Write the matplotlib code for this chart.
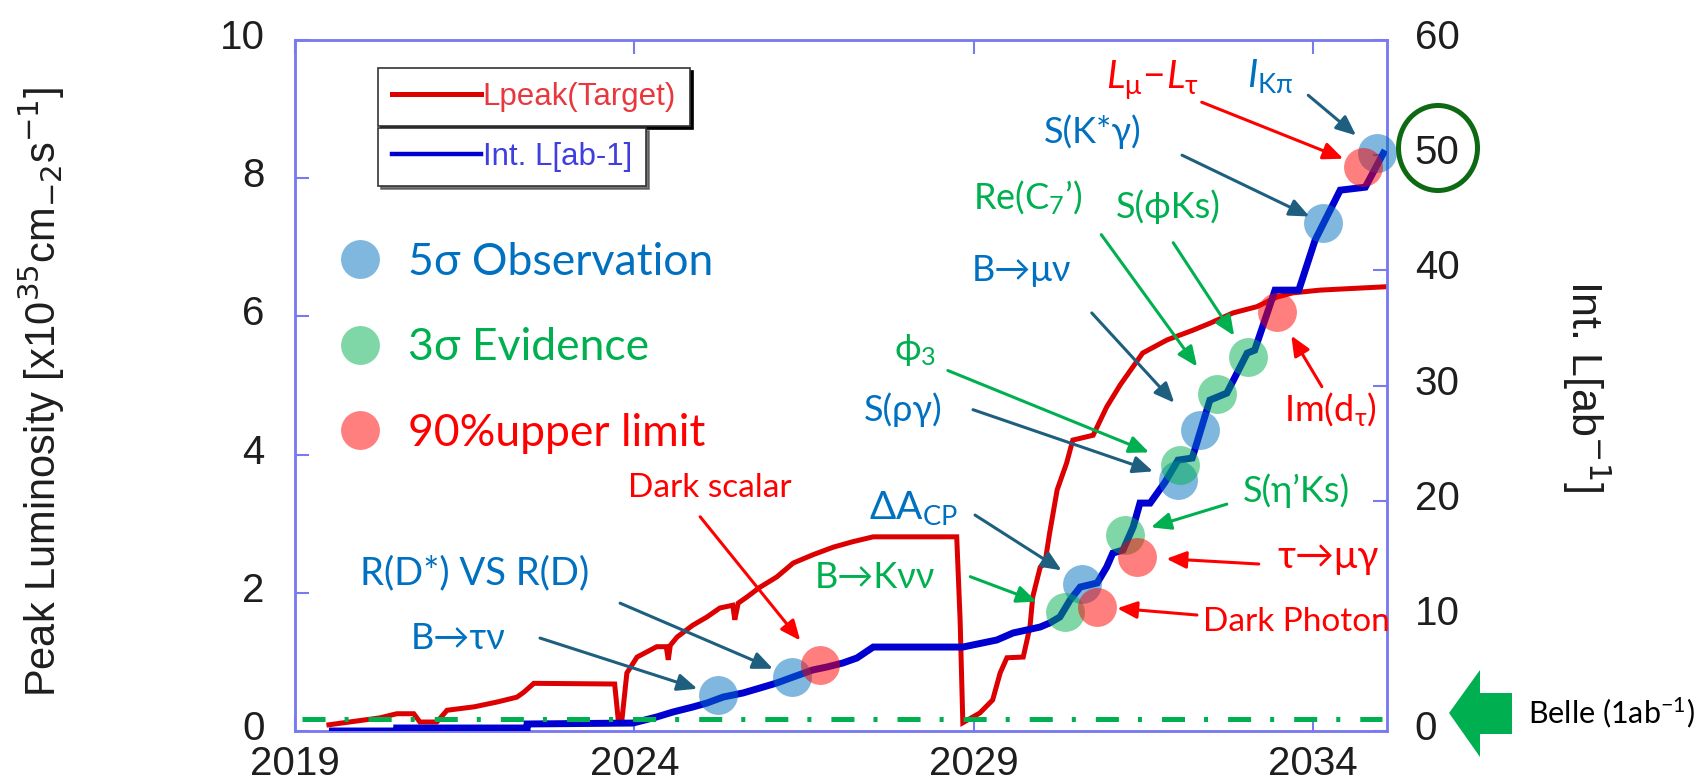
import matplotlib
matplotlib.use("Agg")
import matplotlib.pyplot as plt
from matplotlib.lines import Line2D
from matplotlib.patches import Polygon, Ellipse
from matplotlib.transforms import Affine2D, ScaledTranslation
from matplotlib.font_manager import FontProperties

plt.rcParams['font.family'] = ['Liberation Sans', 'DejaVu Sans']
plt.rcParams['mathtext.fontset'] = 'custom'
plt.rcParams['mathtext.rm'] = 'Lato'
plt.rcParams['mathtext.it'] = 'Lato:italic'
plt.rcParams['mathtext.bf'] = 'Lato:bold'
plt.rcParams['mathtext.fallback'] = 'stixsans'
plt.rcParams['lines.scale_dashes'] = False

# ---------------- data ----------------
# Peak luminosity target [1e35 cm^-2 s^-1]
peak_year = [2019.50, 2020.25, 2020.50, 2020.75, 2020.84, 2021.09, 2021.24, 2021.64,
             2021.98, 2022.27, 2022.37, 2022.52, 2023.71, 2023.76, 2023.82, 2023.89,
             2024.04, 2024.33, 2024.47, 2024.50, 2024.53, 2024.63, 2024.86, 2025.07,
             2025.26, 2025.45, 2025.48, 2025.53, 2025.66, 2025.85, 2026.10, 2026.34,
             2026.63, 2026.93, 2027.22, 2027.52, 2028.75, 2028.80, 2028.84, 2029.09,
             2029.28, 2029.39, 2029.49, 2029.73, 2029.83, 2029.87, 2029.98, 2030.05,
             2030.12, 2030.23, 2030.37, 2030.46, 2030.76, 2030.96, 2031.16, 2031.49,
             2031.85, 2032.23, 2032.48, 2032.82, 2033.17, 2033.47, 2033.70, 2034.10,
             2035.09]
peak_lumi = [0.09, 0.19, 0.25, 0.25, 0.13, 0.13, 0.30, 0.35,
             0.42, 0.49, 0.56, 0.69, 0.68, 0.19, 0.19, 0.84,
             1.07, 1.22, 1.22, 1.03, 1.24, 1.36, 1.53, 1.65,
             1.78, 1.82, 1.61, 1.85, 1.94, 2.08, 2.23, 2.43,
             2.55, 2.66, 2.74, 2.81, 2.81, 1.61, 0.12, 0.26,
             0.45, 0.84, 1.06, 1.07, 1.51, 1.94, 2.37, 2.43,
             2.87, 3.49, 3.88, 4.21, 4.28, 4.69, 5.01, 5.47,
             5.66, 5.80, 5.90, 6.05, 6.14, 6.28, 6.34, 6.38,
             6.43]

# Integrated luminosity [ab^-1]
int_year = [2019.50, 2020.50, 2020.50, 2022.42, 2022.42, 2023.98, 2024.33, 2024.57,
            2024.86, 2025.07, 2025.31, 2025.60, 2025.85, 2026.10, 2026.34, 2026.63,
            2026.84, 2027.07, 2027.28, 2027.52, 2028.84, 2029.34, 2029.58, 2029.98,
            2030.12, 2030.27, 2030.42, 2030.57, 2030.82, 2030.96, 2031.05, 2031.20,
            2031.35, 2031.45, 2031.60, 2031.82, 2032.01, 2032.22, 2032.48, 2032.73,
            2033.03, 2033.14, 2033.44, 2033.79, 2034.03, 2034.40, 2034.77, 2035.06]
int_lumi = [0.00, 0.00, 0.26, 0.26, 0.61, 0.69, 1.22, 1.65,
            2.08, 2.43, 2.95, 3.30, 3.73, 4.17, 4.69, 5.30,
            5.56, 5.90, 6.34, 7.29, 7.29, 7.90, 8.51, 9.03,
            9.38, 9.90, 11.37, 12.50, 12.85, 14.24, 15.45, 15.71,
            17.71, 19.79, 19.79, 21.61, 23.52, 23.70, 28.73, 29.34,
            32.81, 33.07, 38.28, 38.28, 42.62, 46.96, 47.22, 50.43]

belle_int = 1.0

# Physics milestones: (year, integrated luminosity, sensitivity class)
milestone_names = ['Btaunu', 'RDst', 'DarkScalar', 'BKnunu', 'dACP', 'DarkPhoton',
                   'SetapKs', 'taumugamma', 'Srhogamma', 'phi3', 'Bmunu', 'ReC7',
                   'SphiKs', 'Imdtau', 'SKstgamma', 'LmuLtau', 'IKpi']
milestone_year = [2025.23, 2026.32, 2026.74, 2030.35, 2030.60, 2030.82, 2031.23, 2031.41,
                  2032.01, 2032.04, 2032.33, 2032.58, 2033.04, 2033.47, 2034.15, 2034.74,
                  2034.94]
milestone_intl = [3.1, 4.7, 5.7, 10.3, 12.8, 10.8, 17.0, 15.1,
                  21.8, 23.1, 26.1, 29.3, 32.5, 36.4, 44.1, 49.0, 50.2]
milestone_kind = ['obs', 'obs', 'ul', 'evi', 'obs', 'ul', 'evi', 'ul',
                  'obs', 'evi', 'obs', 'evi', 'evi', 'ul', 'obs', 'ul', 'obs']

kind_order = ['obs', 'evi', 'ul']
kind_labels = ['5σ Observation', '3σ Evidence', '90%upper limit']

xtick_years = [2019, 2024, 2029, 2034]
left_ticks = [0, 2, 4, 6, 8, 10]
right_ticks = [0, 10, 20, 30, 40, 50, 60]

# ---------------- styles ----------------
KIND_COLOR = {'obs': '#0070C0', 'evi': '#00B050', 'ul': '#FF0000'}
ARROW_COLOR = {'obs': '#1E5F80', 'evi': '#00B050', 'ul': '#FF0000'}
SPINE = '#7A7AF0'
TXT = '#1e1e1e'
LATO = ['Lato', 'DejaVu Sans']

# text label, text centre, arrow tail, arrow shrink at the circle (pt), font size
ann_layout = {
    'Btaunu':     ('B→τν', (2021.40, 8.07), (2022.61, 8.07), 15.5, 26),
    'RDst':       ('R(D*) VS R(D)', (2021.64, 13.7), (2023.79, 11.1), 14.8, 27.5),
    'DarkScalar': ('Dark scalar', (2025.11, 21.1), (2024.97, 18.6), 23, 24),
    'BKnunu':     ('B→Kνν', (2027.55, 13.3), (2028.95, 13.4), 22, 26),
    'dACP':       (r'$\Delta$A$_{\mathrm{CP}}$', (2028.11, 19.4), (2029.02, 18.75), 17.7, 28),
    'DarkPhoton': ('Dark Photon', (2033.75, 9.46), (2032.29, 10.07), 14.4, 24),
    'SetapKs':    ('S(η’Ks)', (2033.76, 20.9), (2032.73, 19.7), 19.5, 26),
    'taumugamma': ('τ→μγ', (2034.22, 15.1), (2033.20, 14.5), 21, 28),
    'Srhogamma':  ('S(ργ)', (2027.96, 27.9), (2028.99, 27.9), 19, 26),
    'phi3':       (r'$\mathrm{\phi}_{3}$', (2028.14, 33.1), (2028.62, 31.3), 24, 26),
    'Bmunu':      ('B→μν', (2029.71, 40.0), (2030.74, 36.3), 27, 26),
    'ReC7':       (r'Re(C$_{7}$’)', (2029.79, 46.3), (2030.88, 43.1), 24, 26),
    'SphiKs':     ('S(ϕKs)', (2031.86, 45.5), (2031.94, 42.4), 18, 26),
    'Imdtau':     (r'Im(d$_{\mathrm{\tau}}$)', (2034.26, 27.9), (2034.13, 29.9), 20, 26),
    'SKstgamma':  ('S(K*γ)', (2030.76, 52.0), (2032.07, 50.0), 11, 26),
    'LmuLtau':    (r'$L_{\mathrm{\mu}}\!-\!L_{\mathrm{\tau}}$', (2031.64, 56.5), (2032.36, 54.6), 15.5, 28),
    'IKpi':       (r'$I_{\mathrm{K\pi}}$', (2033.37, 56.9), (2033.93, 55.2), 19.5, 28),
}

W, H = 1701, 782
fig = plt.figure(figsize=(W / 100, H / 100), dpi=100)
px = Affine2D().scale(1 / W, -1 / H).translate(0, 1) + fig.transFigure


def fpos(x, y):
    return (x / W, 1 - y / H)


ax = fig.add_axes([295 / W, 1 - 731 / H, (1387 - 295) / W, (731 - 40) / H])
ax2 = ax.twinx()

for a in (ax, ax2):
    for s in a.spines.values():
        s.set_color(SPINE)
        s.set_linewidth(1.8)

ax.set_xlim(2019, 2035.09)
ax.set_ylim(0, 10)
ax2.set_ylim(0, 60)

# curves
ax.plot(peak_year, peak_lumi, color='#DD0000', lw=3.6, zorder=2,
        solid_joinstyle='miter')
ax2.plot(int_year, int_lumi, color='#0000D0', lw=5.0, zorder=3,
         solid_joinstyle='miter', solid_capstyle='butt')
ax2.axhline(belle_int, xmin=0.006, xmax=0.995, color='#00B050', lw=3.6,
            ls=(0, (16.6, 13.7, 2.9, 14.4)), zorder=4)

# milestone circles
for kind in kind_order:
    xs = [x for x, k in zip(milestone_year, milestone_kind) if k == kind]
    ys = [y for y, k in zip(milestone_intl, milestone_kind) if k == kind]
    ax2.plot(xs, ys, ls='', marker='o', ms=28, mew=0, color=KIND_COLOR[kind],
             alpha=0.5, zorder=6, clip_on=False)

# labels and arrows
for name, x, y, kind in zip(milestone_names, milestone_year, milestone_intl, milestone_kind):
    label, tpos, tail, shrink, fs = ann_layout[name]
    ax2.annotate('', xy=(x, y), xytext=tail,
                 arrowprops=dict(arrowstyle='-|>,head_length=0.6,head_width=0.26',
                                 color=ARROW_COLOR[kind], lw=2.2, shrinkA=0,
                                 shrinkB=shrink, mutation_scale=20),
                 annotation_clip=False, zorder=7)
    ax2.text(tpos[0], tpos[1], label, color=KIND_COLOR[kind], fontsize=fs,
             family=LATO, ha='center', va='center', zorder=8)

# ticks
ax.set_xticks(xtick_years)
ax.set_xticklabels([str(v) for v in xtick_years])
ax.set_yticks(left_ticks)
ax2.set_yticks(right_ticks)
ax.tick_params(axis='x', direction='in', top=True, bottom=True, length=10, width=1.5,
               color=SPINE, pad=10, labelsize=29, labelcolor=TXT)
ax.tick_params(axis='y', direction='in', left=True, right=False, length=10, width=1.5,
               color=SPINE, pad=22, labelsize=29, labelcolor=TXT)
ax2.tick_params(axis='y', direction='in', length=10, width=1.5,
                color=SPINE, pad=20, labelsize=29, labelcolor=TXT)
for lab in ax.get_yticklabels() + ax2.get_yticklabels():
    lab.set_transform(lab.get_transform() + ScaledTranslation(0, 6 / 100, fig.dpi_scale_trans))

# axis titles
fig.text(*fpos(41, 392), r'Peak Luminosity [x10$^{35}$cm$_{-2}$s$^{-1}$]', rotation=90,
         ha='center', va='center', fontsize=30, color=TXT, math_fontfamily='dejavusans')
fig.text(*fpos(1586, 386), r'Int. L[ab$^{-1}$]', rotation=270,
         ha='center', va='center', fontsize=31, color=TXT, math_fontfamily='dejavusans')

# line legends (two boxes)
leg1 = ax2.legend([Line2D([], [], color='#DD0000', lw=3.6)], ['Lpeak(Target)'],
                  loc='upper left', bbox_to_anchor=fpos(378, 68), bbox_transform=fig.transFigure,
                  prop=FontProperties(family='Liberation Sans', size=22.5),
                  labelcolor=['#E8383D'], handlelength=2.85, handletextpad=0.05,
                  borderpad=0.45, borderaxespad=0, fancybox=False, edgecolor='#333333',
                  framealpha=1, shadow={'color': 'black', 'alpha': 1})
leg1.get_frame().set_linewidth(1.2)
ax2.add_artist(leg1)
leg2 = ax2.legend([Line2D([], [], color='#0000D0', lw=3.2)], ['Int. L[ab-1]'],
                  loc='upper left', bbox_to_anchor=fpos(378, 128), bbox_transform=fig.transFigure,
                  prop=FontProperties(family='Liberation Sans', size=22.5),
                  labelcolor=['#3F3FE0'], handlelength=2.85, handletextpad=0.05,
                  borderpad=0.45, borderaxespad=0, fancybox=False, edgecolor='#333333',
                  framealpha=1, shadow={'color': '#555555', 'alpha': 0.8})
leg2.get_frame().set_linewidth(1.2)
ax2.add_artist(leg2)

# significance legend
cat_handles = [Line2D([], [], ls='', marker='o', ms=28, mew=0, color=KIND_COLOR[k], alpha=0.5)
               for k in kind_order]
leg3 = ax2.legend(cat_handles, kind_labels, loc='upper left', bbox_to_anchor=fpos(338, 242),
                  bbox_transform=fig.transFigure, frameon=False,
                  prop=FontProperties(family=LATO, size=32),
                  labelcolor=[KIND_COLOR[k] for k in kind_order],
                  handlelength=1.0, handletextpad=0.58, labelspacing=1.0,
                  borderpad=0, borderaxespad=0)

# Belle reference marker on the right
fig.patches.append(Polygon([(1449, 713), (1480, 670), (1480, 693), (1512, 693),
                            (1512, 734), (1480, 734), (1480, 757)],
                           closed=True, facecolor='#00B050', edgecolor='none', transform=px))
fig.text(*fpos(1528, 713), r'Belle (1ab$^{\mathrm{-1}}$)', ha='left', va='center',
         fontsize=22, family=LATO, color='black')

# highlight of the 50 ab^-1 goal
fig.patches.append(Ellipse((1438, 148), 79, 85, fill=False, edgecolor='#0E6A12', lw=3.6,
                           transform=px))

fig.savefig('out.png', dpi=100)
